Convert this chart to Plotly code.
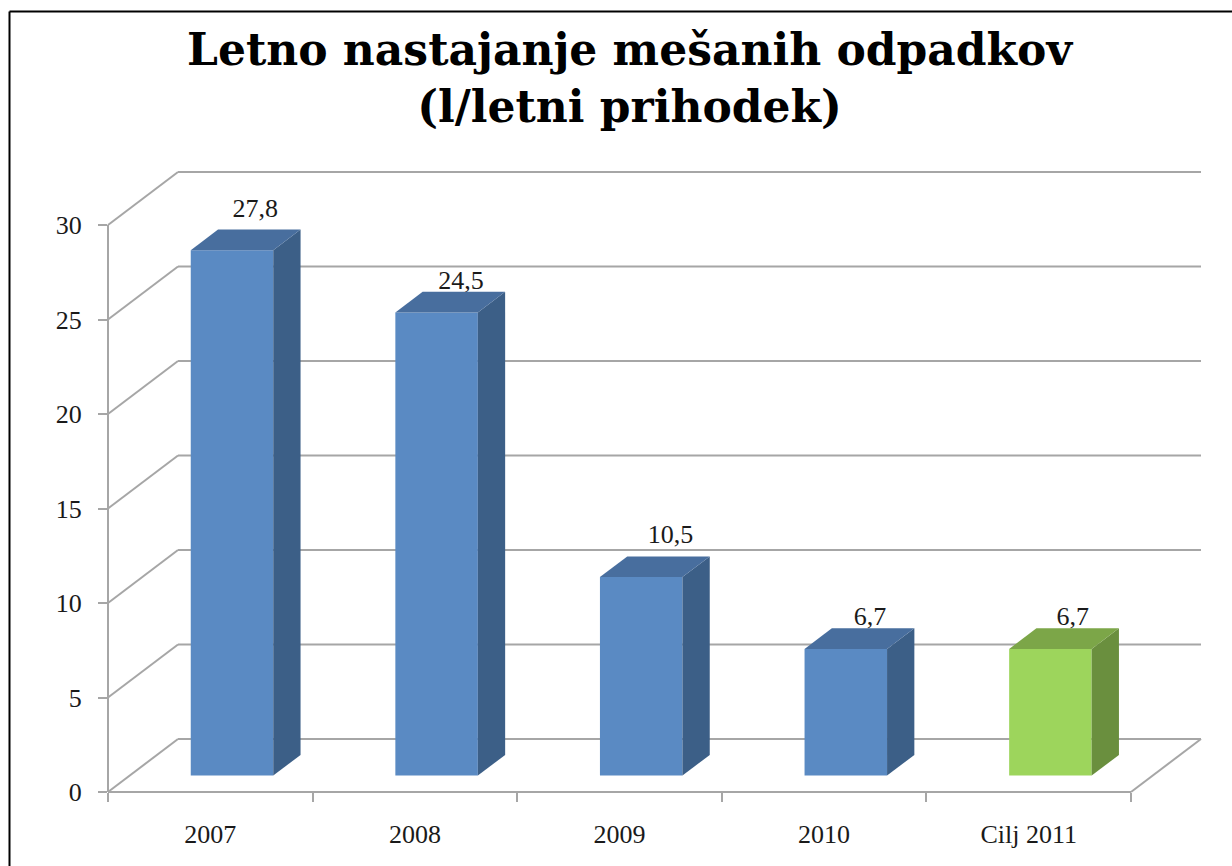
import plotly.graph_objects as go

categories = ["2007", "2008", "2009", "2010", "Cilj 2011"]
values = [27.8, 24.5, 10.5, 6.7, 6.7]
value_labels = ["27,8", "24,5", "10,5", "6,7", "6,7"]
y_ticks = [0, 5, 10, 15, 20, 25, 30]
title_line1 = "Letno nastajanje mešanih odpadkov"
title_line2 = "(l/letni prihodek)"

# colours per bar: front, side, top
FRONT = ["#5A8AC3", "#5A8AC3", "#5A8AC3", "#5A8AC3", "#9DD55C"]
SIDE = ["#3C5F87", "#3C5F87", "#3C5F87", "#3C5F87", "#6A8F3E"]
TOP = ["#486E9E", "#486E9E", "#486E9E", "#486E9E", "#7CA648"]
GRID = "#A6A6A6"
SERIF = "Liberation Serif"

# page geometry
W, H = 1232, 866
L, R, T, B = 108.0, 1201.0, 172.0, 792.0
CAT_PX, VAL_PX = 204.6, 18.9
DX = 70 / CAT_PX      # depth of the floor in x units
DY = 53 / VAL_PX      # depth of the floor in y units
D0, D1 = 0.31, 0.70   # bar depth span (fraction of the floor)
BAR_W = 82.5 / CAT_PX
N = len(categories)
X_MAX = (R - L) / CAT_PX
Y_MAX = (B - T) / VAL_PX
# small per-label lift and shift in pixels above the bar's back edge
LABEL_LIFT = [19, 9, 20, 10, 10]
LABEL_SHIFT = [-4, -3, 2, -3, -5]


def p(x, y, d):
    return x + d * DX, y + d * DY


def seg(x0, y0, x1, y1, color=GRID, width=2):
    # paper-referenced so that lines on the plot edge are not clipped
    return dict(type="line", xref="paper", yref="paper",
                x0=x0 / X_MAX, y0=y0 / Y_MAX, x1=x1 / X_MAX, y1=y1 / Y_MAX,
                line=dict(color=color, width=width), layer="below")


shapes = []
for v in y_ticks:
    x0, y0 = p(0, v, 0)
    xb, yb = p(0, v, 1)
    xe, _ = p(N, v, 1)
    shapes.append(seg(x0, y0, xb, yb))
    shapes.append(seg(xb, yb, xe, yb))
shapes.append(seg(0, 0, 0, y_ticks[-1]))
shapes.append(seg(0, 0, N, 0))
shapes.append(seg(N, 0, *p(N, 0, 1)))

# picture frame: left and top edges only
fx = lambda px: (px - L) / CAT_PX
fy = lambda py: (B - py) / VAL_PX
shapes.append(seg(fx(9.5), fy(11.5), fx(9.5), fy(H), "#000000", 2))
shapes.append(seg(fx(9.5), fy(11.5), fx(W), fy(11.5), "#000000", 2))

fig = go.Figure()

centers = [i + 0.5 + D0 * DX for i in range(N)]
fig.add_trace(go.Bar(
    x=centers, y=values, base=[D0 * DY] * N, width=BAR_W,
    marker=dict(color=FRONT, line=dict(width=0)),
    hoverinfo="skip", showlegend=False,
))

# value labels first, so that the top faces can sit over them
lab_x, lab_y = [], []
for i, v in enumerate(values):
    x, y = p(i + 0.5, v, D1)
    lab_x.append(x + LABEL_SHIFT[i] / CAT_PX)
    lab_y.append(y + LABEL_LIFT[i] / VAL_PX)
fig.add_trace(go.Scatter(
    x=lab_x, y=lab_y, text=value_labels, mode="text", cliponaxis=False,
    textposition="middle center",
    textfont=dict(family=SERIF, size=26, color="#1a1a1a"),
    hoverinfo="skip", showlegend=False,
))

for i, v in enumerate(values):
    xl, xr = i + 0.5 - BAR_W / 2, i + 0.5 + BAR_W / 2
    side = [p(xr, 0, D0), p(xr, 0, D1), p(xr, v, D1), p(xr, v, D0), p(xr, 0, D0)]
    top = [p(xl, v, D0), p(xl, v, D1), p(xr, v, D1), p(xr, v, D0), p(xl, v, D0)]
    for pts, col in ((side, SIDE[i]), (top, TOP[i])):
        fig.add_trace(go.Scatter(
            x=[a for a, _ in pts], y=[b for _, b in pts], mode="lines",
            fill="toself", fillcolor=col, line=dict(width=0), cliponaxis=False,
            hoverinfo="skip", showlegend=False,
        ))

fig.update_layout(
    width=W, height=H, autosize=False,
    margin=dict(l=L, r=W - R, t=T, b=H - B, pad=0),
    paper_bgcolor="white", plot_bgcolor="rgba(0,0,0,0)",
    showlegend=False, shapes=shapes,
    title=dict(
        text=title_line1 + "<br>" + title_line2,
        x=629.5 / W, xanchor="center", xref="container",
        y=1 - 65 / H, yanchor="middle", yref="container",
        font=dict(family="DejaVu Serif", size=44, color="black", weight="bold"),
    ),
    xaxis=dict(
        range=[0, X_MAX], tickmode="array",
        tickvals=[i + 0.5 for i in range(N)], ticktext=categories,
        ticks="", showgrid=False, zeroline=False, showline=False,
        ticklabelstandoff=24,
        tickfont=dict(family=SERIF, size=26, color="#1a1a1a"),
        minor=dict(tickmode="array", tickvals=list(range(N + 1)), ticks="outside",
                   ticklen=9, tickwidth=2, tickcolor=GRID, showgrid=False),
    ),
    yaxis=dict(
        range=[0, Y_MAX], tickmode="array", tickvals=y_ticks,
        ticks="outside", ticklen=9, tickwidth=2, tickcolor=GRID,
        showgrid=False, zeroline=False, showline=False,
        ticklabelstandoff=11,
        tickfont=dict(family=SERIF, size=26, color="#1a1a1a"),
    ),
)

fig.write_html("out.html", config={"displayModeBar": False},
               post_script="document.body.style.margin='0';document.body.style.overflow='hidden';")
